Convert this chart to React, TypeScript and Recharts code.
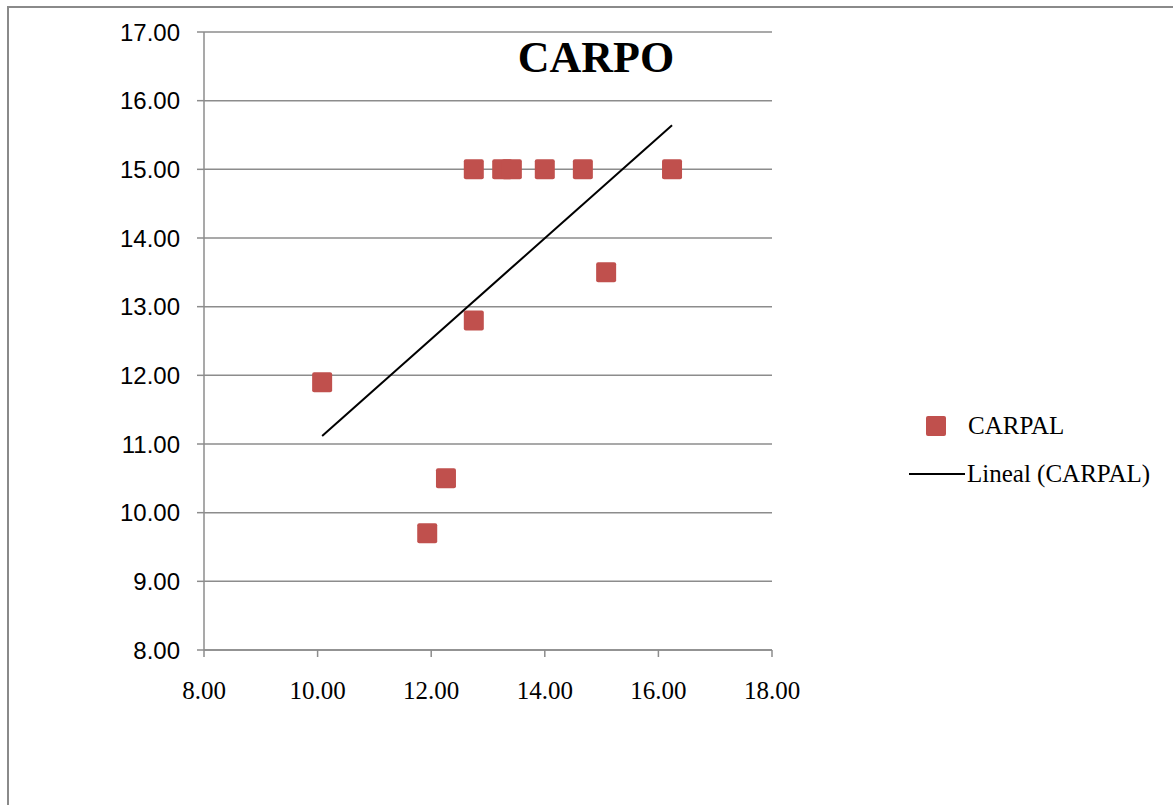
import React from 'react';
import {
  ScatterChart,
  Scatter,
  XAxis,
  YAxis,
  ZAxis,
  CartesianGrid,
} from 'recharts';

// Measured values (CARPAL series)
const carpalX = [10.08, 11.93, 12.26, 12.75, 12.75, 13.25, 13.42, 14.0, 14.67, 15.08, 16.24];
const carpalY = [11.9, 9.7, 10.5, 15.0, 12.8, 15.0, 15.0, 15.0, 15.0, 13.5, 15.0];

const xTicks = [8, 10, 12, 14, 16, 18];
const yTicks = [8, 9, 10, 11, 12, 13, 14, 15, 16, 17];

const MARKER_COLOR = '#C0504D';
const GRID_COLOR = '#8c8c8c';
const SERIF = "'Liberation Serif', 'Times New Roman', serif";
const SANS = "'Liberation Sans', Arial, sans-serif";

/**
 * Least squares fit, like the spreadsheet's linear trendline
 */
function linearTrend(xs: number[], ys: number[]) {
  const n = xs.length;
  const mx = xs.reduce((a, b) => a + b, 0) / n;
  const my = ys.reduce((a, b) => a + b, 0) / n;
  let sxy = 0;
  let sxx = 0;
  xs.forEach((x, i) => {
    sxy += (x - mx) * (ys[i] - my);
    sxx += (x - mx) * (x - mx);
  });
  const slope = sxy / sxx;
  const intercept = my - slope * mx;
  const x0 = Math.min(...xs);
  const x1 = Math.max(...xs);
  return [
    { x: x0, y: intercept + slope * x0 },
    { x: x1, y: intercept + slope * x1 },
  ];
}

const points = carpalX.map((x, i) => ({ x, y: carpalY[i] }));
const trend = linearTrend(carpalX, carpalY);

function SquareMarker(props: { cx?: number; cy?: number }) {
  const { cx = 0, cy = 0 } = props;
  return <rect x={cx - 10} y={cy - 10} width={20} height={20} rx={2} fill={MARKER_COLOR} />;
}

// x tick labels are serif in the original, y tick labels sans
function XTick(props: { x?: number; y?: number; payload?: { value: number } }) {
  const { x = 0, y = 0, payload } = props;
  return (
    <text x={x} y={y} dy="0.71em" textAnchor="middle" fill="#000" fontSize={25} style={{ fontFamily: SERIF }}>
      {payload ? payload.value.toFixed(2) : ''}
    </text>
  );
}

function YTick(props: { x?: number; y?: number; payload?: { value: number } }) {
  const { x = 0, y = 0, payload } = props;
  return (
    <text x={x} y={y} dy="0.355em" textAnchor="end" fill="#000" fontSize={24} style={{ fontFamily: SANS }}>
      {payload ? payload.value.toFixed(2) : ''}
    </text>
  );
}

export default function App() {
  return (
    <div style={{ position: 'absolute', left: 0, top: 0, width: 1173, height: 805, overflow: 'hidden', background: '#fff' }}>
      {/* frame border (top + left only visible) */}
      <div
        style={{
          position: 'absolute',
          left: 7,
          top: 6,
          width: 1300,
          height: 900,
          borderTop: '2px solid #8a8a8a',
          borderLeft: '2px solid #8a8a8a',
        }}
      />

      <div style={{ position: 'absolute', left: 0, top: 0 }}>
        <ScatterChart
          width={1173}
          height={805}
          margin={{ top: 32, right: 401, left: 144, bottom: 115 }}
        >
          <CartesianGrid vertical={false} stroke={GRID_COLOR} strokeWidth={1.5} />
          <XAxis
            type="number"
            dataKey="x"
            domain={[8, 18]}
            ticks={xTicks}
            tick={<XTick />}
            tickSize={7}
            tickMargin={24}
            height={40}
            stroke={GRID_COLOR}
            strokeWidth={1.5}
          />
          <YAxis
            type="number"
            dataKey="y"
            domain={[8, 17]}
            ticks={yTicks}
            tick={<YTick />}
            tickSize={7}
            tickMargin={17}
            width={60}
            stroke={GRID_COLOR}
            strokeWidth={1.5}
          />
          <ZAxis range={[400, 400]} />
          <Scatter
            name="CARPAL"
            data={points}
            shape={<SquareMarker />}
            isAnimationActive={false}
          />
          <Scatter
            name="Lineal (CARPAL)"
            data={trend}
            line={{ stroke: '#000', strokeWidth: 2 }}
            shape={() => null}
            isAnimationActive={false}
          />
        </ScatterChart>
      </div>

      {/* Title */}
      <div
        style={{
          position: 'absolute',
          left: 480,
          top: 30,
          width: 232,
          textAlign: 'center',
          fontFamily: SERIF,
          fontWeight: 'bold',
          fontSize: 44,
          lineHeight: '56px',
          color: '#000',
        }}
      >
        CARPO
      </div>

      {/* Legend */}
      <div
        style={{
          position: 'absolute',
          left: 905,
          top: 408,
          fontFamily: SERIF,
          fontSize: 25,
          color: '#000',
        }}
      >
        <div style={{ display: 'flex', alignItems: 'center', height: 36 }}>
          <span
            style={{
              display: 'inline-block',
              width: 20,
              height: 20,
              marginLeft: 21,
              marginRight: 22,
              background: MARKER_COLOR,
              borderRadius: 2,
            }}
          />
          <span>CARPAL</span>
        </div>
        <div style={{ display: 'flex', alignItems: 'center', height: 36, marginTop: 12 }}>
          <span
            style={{
              display: 'inline-block',
              width: 56,
              height: 2,
              marginLeft: 4,
              marginRight: 2,
              background: '#000',
            }}
          />
          <span>Lineal (CARPAL)</span>
        </div>
      </div>
    </div>
  );
}
